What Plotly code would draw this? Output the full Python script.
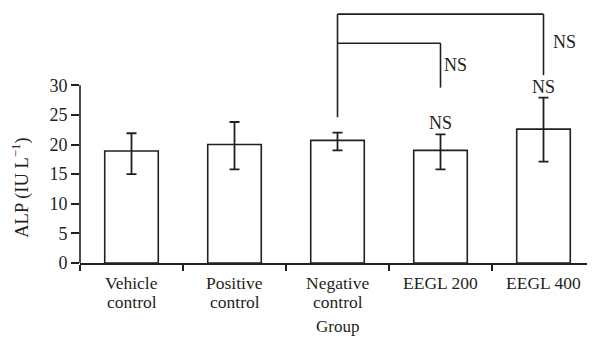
import plotly.graph_objects as go

groups = ["Vehicle<br>control", "Positive<br>control", "Negative<br>control", "EEGL 200", "EEGL 400"]
alp_mean = [18.9, 20.0, 20.7, 19.0, 22.6]
err_plus = [3.0, 3.8, 1.3, 2.7, 5.3]
err_minus = [3.9, 4.2, 1.7, 3.2, 5.5]
y_ticks = [0, 5, 10, 15, 20, 25, 30]

INK = "#231f20"
FONT = "Liberation Serif, Times New Roman, serif"

# page has an 8px body margin; compensate so the plot area lands at x 80..595, y 10..263
PLOT_W = 515
PLOT_H = 253

fig = go.Figure()
fig.add_trace(go.Bar(
    x=groups, y=alp_mean, width=0.52,
    marker=dict(color="white", line=dict(color=INK, width=1.6)),
    error_y=dict(type="data", symmetric=False, array=err_plus, arrayminus=err_minus,
                 color=INK, thickness=1.8, width=5),
))

# significance brackets (comparisons vs Negative control)
ref = 2
tops = [m + p for m, p in zip(alp_mean, err_plus)]
shapes = []
line = dict(color=INK, width=1.6)
shapes.append(dict(type="line", xref="x", yref="y", x0=ref, x1=ref, y0=tops[ref] + 2.6, y1=42.0, line=line))
shapes.append(dict(type="line", xref="x", yref="y", x0=ref, x1=3, y0=37.1, y1=37.1, line=line))
shapes.append(dict(type="line", xref="x", yref="y", x0=3, x1=3, y0=37.1, y1=29.6, line=line))
shapes.append(dict(type="line", xref="x", yref="y", x0=ref, x1=4, y0=42.0, y1=42.0, line=line))
shapes.append(dict(type="line", xref="x", yref="y", x0=4, x1=4, y0=42.0, y1=31.7, line=line))
# y axis line (only up to 30)
shapes.append(dict(type="line", xref="paper", yref="y", x0=0, x1=0, y0=0, y1=30, line=line))

annotations = []
nsfont = dict(family=FONT, size=18, color=INK)
annotations.append(dict(x=3, y=tops[3] + 1.9, xref="x", yref="y", text="NS", showarrow=False,
                        font=nsfont, xanchor="center", yanchor="middle"))
annotations.append(dict(x=4, y=tops[4] + 1.8, xref="x", yref="y", text="NS", showarrow=False,
                        font=nsfont, xanchor="center", yanchor="middle"))
annotations.append(dict(x=3, y=33.4, xref="x", yref="y", text="NS", showarrow=False,
                        font=nsfont, xanchor="left", yanchor="middle", xshift=1))
annotations.append(dict(x=4, y=37.3, xref="x", yref="y", text="NS", showarrow=False,
                        font=nsfont, xanchor="left", yanchor="middle", xshift=7))

# category labels (two lines each, tight line spacing as in the reference)
for i, g in enumerate(groups):
    for k, part in enumerate(g.split("<br>")):
        annotations.append(dict(x=i, y=-(20 + 19 * k) / PLOT_H, xref="x", yref="paper", text=part,
                                showarrow=False, font=dict(family=FONT, size=17.5, color=INK),
                                xanchor="center", yanchor="middle"))

annotations.append(dict(x=-59 / PLOT_W, y=12.7, xref="paper", yref="y", text="ALP (IU L<sup>\u22121</sup>)",
                        showarrow=False, textangle=-90, font=dict(family=FONT, size=18.5, color=INK),
                        xanchor="center", yanchor="middle"))
annotations.append(dict(x=0.5, y=-64 / PLOT_H, xref="paper", yref="paper", text="Group", showarrow=False,
                        font=dict(family=FONT, size=17, color=INK), xanchor="center", yanchor="middle"))

fig.update_layout(
    width=587, height=331,
    margin=dict(l=72, r=0, t=2, b=76),
    paper_bgcolor="white", plot_bgcolor="white",
    showlegend=False,
    font=dict(family=FONT, size=18, color=INK),
    shapes=shapes, annotations=annotations,
    xaxis=dict(type="category", range=[-0.5, 4.5], showline=True, linecolor=INK, linewidth=1.6,
               ticks="outside", tickson="boundaries", ticklen=6, tickwidth=1.6, tickcolor=INK,
               showgrid=False, zeroline=False, showticklabels=False),
    yaxis=dict(range=[0, 42.7], tickvals=y_ticks, ticks="outside", ticklen=8, tickwidth=1.6,
               tickcolor=INK, showline=False, showgrid=False, zeroline=False,
               tickfont=dict(family=FONT, size=18, color=INK)),
)

fig.write_html("out.html")
